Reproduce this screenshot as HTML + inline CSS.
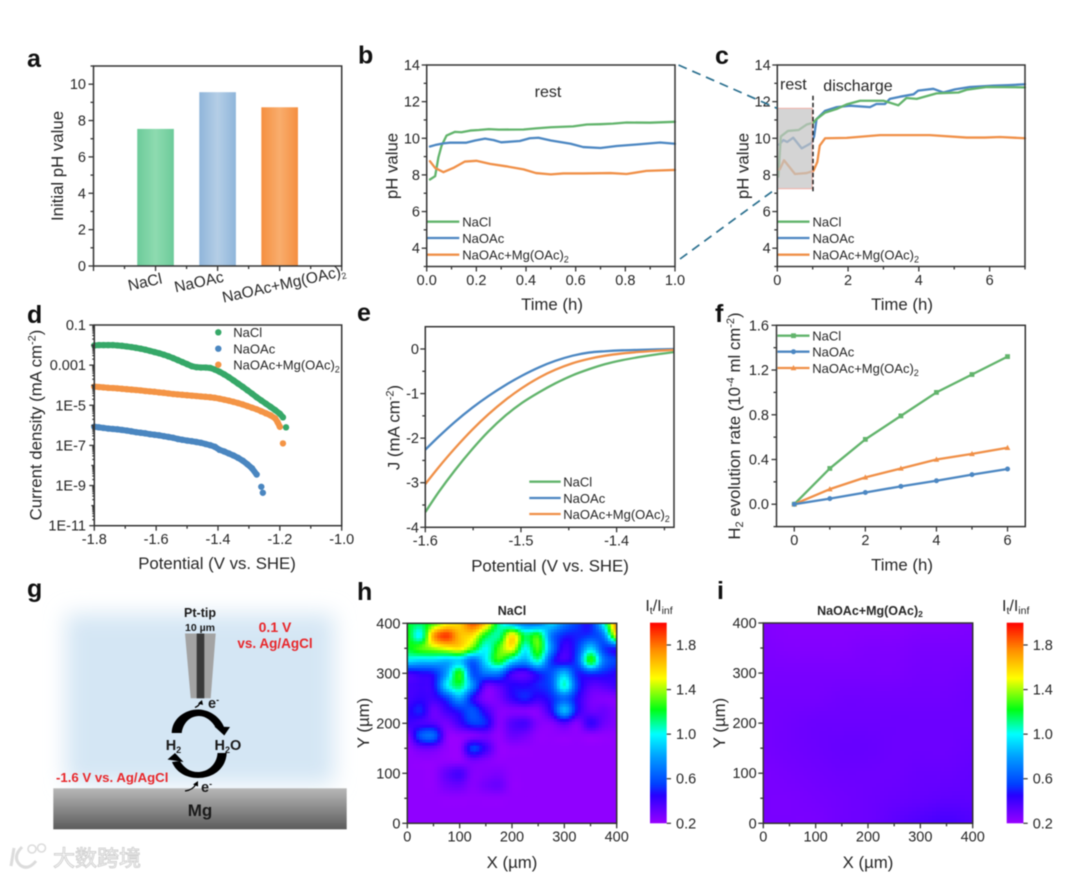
<!DOCTYPE html>
<html lang="en">
<head>
<meta charset="utf-8">
<title>pH and hydrogen evolution figure</title>
<style>
html,body{margin:0;padding:0;background:#fff;}
#figure{display:block;filter:blur(0.45px);font-family:"Liberation Sans",Arial,sans-serif;fill:#262626;}
.tick{font-size:14.5px;}
.title{font-size:16.8px;}
.legend{font-size:13px;}
.letter{font-size:25px;font-weight:bold;fill:#111;}
.sub{font-size:9px;}
.red{fill:#e8262a;font-weight:bold;}
.sch{font-weight:bold;fill:#1a1a1a;}
</style>
</head>
<body>
<svg id="figure" xmlns="http://www.w3.org/2000/svg" width="1080" height="878" viewBox="0 0 1080 878">
<defs>
<linearGradient id="barGreen"><stop offset="0" stop-color="#6ccb9a"/><stop offset=".5" stop-color="#8edbb0"/><stop offset="1" stop-color="#6ccb9a"/></linearGradient>
<linearGradient id="barBlue"><stop offset="0" stop-color="#8fb5da"/><stop offset=".5" stop-color="#b5cee6"/><stop offset="1" stop-color="#8fb5da"/></linearGradient>
<linearGradient id="barOrange"><stop offset="0" stop-color="#f58f40"/><stop offset=".5" stop-color="#f9ad6d"/><stop offset="1" stop-color="#f58f40"/></linearGradient>
<linearGradient id="mgGrad" x1="0" y1="0" x2="0" y2="1"><stop offset="0" stop-color="#b8b8b8"/><stop offset="1" stop-color="#5c5c5c"/></linearGradient>
<filter id="soft" x="-25%" y="-25%" width="150%" height="150%"><feGaussianBlur stdDeviation="11"/></filter>
<linearGradient id="cbGrad" x1="0" y1="1" x2="0" y2="0"></linearGradient>
</defs>
<rect width="1080" height="878" fill="#fff"/>

<g id="panel-a"></g>
<g id="panel-b"></g>
<g id="panel-c"></g>
<g id="panel-d"></g>
<g id="panel-e"></g>
<g id="panel-f"></g>
<g id="panel-h"></g>
<g id="panel-i"></g>

<!-- panel letters -->
<text class="letter" x="27" y="67">a</text>
<text class="letter" x="358" y="63.5">b</text>
<text class="letter" x="715" y="64">c</text>
<text class="letter" x="27" y="323">d</text>
<text class="letter" x="357" y="321">e</text>
<text class="letter" x="715" y="322">f</text>
<text class="letter" x="27" y="597">g</text>
<text class="letter" x="357" y="600">h</text>
<text class="letter" x="717" y="599">i</text>

<!-- panel a text -->
<text class="title" transform="translate(63,166) rotate(-90)" text-anchor="middle">Initial pH value</text>
<text class="tick" style="font-size:15.5px" transform="translate(146,287) rotate(-12.5)" text-anchor="middle">NaCl</text>
<text class="tick" style="font-size:15.5px" transform="translate(200,287) rotate(-12.5)" text-anchor="middle">NaOAc</text>
<text class="tick" style="font-size:15.5px" transform="translate(285,289) rotate(-12.5)" text-anchor="middle">NaOAc+Mg(OAc)<tspan class="sub" dy="3">2</tspan></text>

<!-- panel b text -->
<text class="title" transform="translate(397.5,166) rotate(-90)" text-anchor="middle">pH value</text>
<text class="title" x="552" y="310" text-anchor="middle">Time (h)</text>
<text x="548" y="97" text-anchor="middle" font-size="16">rest</text>
<text class="legend" x="462.3" y="226.5">NaCl</text>
<text class="legend" x="462.3" y="243">NaOAc</text>
<text class="legend" x="462.3" y="259.5">NaOAc+Mg(OAc)<tspan class="sub" dy="3">2</tspan></text>

<!-- panel c text -->
<text class="title" transform="translate(748.3,166) rotate(-90)" text-anchor="middle">pH value</text>
<text class="title" x="902" y="310" text-anchor="middle">Time (h)</text>
<text x="780" y="89.5" font-size="16">rest</text>
<text x="823.3" y="91" font-size="16">discharge</text>
<text class="legend" x="812.5" y="226.5">NaCl</text>
<text class="legend" x="812.5" y="243">NaOAc</text>
<text class="legend" x="812.5" y="259.5">NaOAc+Mg(OAc)<tspan class="sub" dy="3">2</tspan></text>

<!-- zoom connector lines -->
<line x1="678.5" y1="65" x2="777" y2="108.3" stroke="#2b708f" stroke-width="1.7" stroke-dasharray="9 6"/>
<line x1="680" y1="259" x2="777" y2="188" stroke="#2b708f" stroke-width="1.7" stroke-dasharray="9 6"/>

<!-- panel d text -->
<text class="title" transform="translate(41.7,425) rotate(-90)" text-anchor="middle">Current density (mA cm<tspan class="sub" dy="-6" style="font-size:11px">-2</tspan><tspan dy="6">)</tspan></text>
<text class="title" x="217" y="569" text-anchor="middle">Potential (V vs. SHE)</text>
<text class="legend" x="233.3" y="337">NaCl</text>
<text class="legend" x="233.3" y="353.3">NaOAc</text>
<text class="legend" x="233.3" y="369.3">NaOAc+Mg(OAc)<tspan class="sub" dy="3">2</tspan></text>

<!-- panel e text -->
<text class="title" transform="translate(399.3,427.5) rotate(-90)" text-anchor="middle">J (mA cm<tspan class="sub" dy="-6" style="font-size:11px">-2</tspan><tspan dy="6">)</tspan></text>
<text class="title" x="550" y="571.7" text-anchor="middle">Potential (V vs. SHE)</text>
<text class="legend" x="563.3" y="486.5">NaCl</text>
<text class="legend" x="563.3" y="503">NaOAc</text>
<text class="legend" x="563.3" y="519">NaOAc+Mg(OAc)<tspan class="sub" dy="3">2</tspan></text>

<!-- panel f text -->
<text class="title" transform="translate(740,426) rotate(-90)" text-anchor="middle">H<tspan class="sub" dy="3" style="font-size:11px">2</tspan><tspan dy="-3"> evolution rate (10</tspan><tspan class="sub" dy="-6" style="font-size:11px">-4</tspan><tspan dy="6"> ml cm</tspan><tspan class="sub" dy="-6" style="font-size:11px">-2</tspan><tspan dy="6">)</tspan></text>
<text class="title" x="902" y="570.7" text-anchor="middle">Time (h)</text>
<text class="legend" x="812.3" y="340.5">NaCl</text>
<text class="legend" x="812.3" y="356.5">NaOAc</text>
<text class="legend" x="812.3" y="373">NaOAc+Mg(OAc)<tspan class="sub" dy="3">2</tspan></text>

<!-- panel g schematic -->
<g>
  <rect x="66" y="614" width="268" height="170" fill="#d4e6f4" filter="url(#soft)"/>
  <rect x="53.3" y="788.3" width="293.4" height="41" fill="url(#mgGrad)"/>
  <text class="sch" x="200" y="816" text-anchor="middle" font-size="17">Mg</text>
  <text class="sch" x="200" y="617" text-anchor="middle" font-size="12.5">Pt-tip</text>
  <text class="sch" x="200" y="631" text-anchor="middle" font-size="10.5">10 µm</text>
  <polygon points="185,633.5 215.7,633.5 210.7,698.3 190.7,698.3" fill="#a3a3a3"/>
  <rect x="196.7" y="633.5" width="7.6" height="64.8" fill="#3a3a3a"/>
  <text class="red" x="275" y="632" text-anchor="middle" font-size="14">0.1 V</text>
  <text class="red" x="275" y="648" text-anchor="middle" font-size="13.5">vs. Ag/AgCl</text>
  <text class="red" x="56" y="782" font-size="13.2">-1.6 V vs. Ag/AgCl</text>
  <path d="M171.7,733 C172,718 186,709 199,709.5 C210,710 220,717 224,727 L216,728 C212,721 206,716 199,716 C190,716 183,723 181.7,733 Z" fill="#000"/>
  <polygon points="214.5,726.5 230,727 224.3,735.5" fill="#000"/>
  <path d="M226.7,753 C226,768 214,778 198,778 C186,778 176,772 172,762 L180,761 C184,768 190,772 198,772 C208,772 217,764 217.5,753 Z" fill="#000"/>
  <polygon points="167.5,759.5 175,753 183.5,762" fill="#000"/>
  <path d="M195,707.5 Q199,706 200.5,702" fill="none" stroke="#000" stroke-width="1.3"/>
  <polygon points="202,700 203,705 198,703.5" fill="#000"/>
  <path d="M185,791 Q193,790 196,784" fill="none" stroke="#000" stroke-width="1.3"/>
  <polygon points="198,781 198,786.5 193,784.5" fill="#000"/>
  <text class="sch" x="208" y="708" font-size="14.5">e<tspan font-size="9" dy="-5">-</tspan></text>
  <text class="sch" x="201" y="792" font-size="14.5">e<tspan font-size="9" dy="-5">-</tspan></text>
  <text class="sch" x="165.7" y="750" font-size="14.5">H<tspan font-size="9" dy="3">2</tspan></text>
  <text class="sch" x="214.5" y="750" font-size="14.5">H<tspan font-size="9" dy="3">2</tspan><tspan dy="-3">O</tspan></text>
</g>

<!-- panel h text -->
<text x="512" y="615" text-anchor="middle" font-size="12.5" font-weight="bold">NaCl</text>
<text class="title" transform="translate(369,723) rotate(-90)" text-anchor="middle">Y (µm)</text>
<text class="title" x="512" y="868" text-anchor="middle">X (µm)</text>
<text style="font-size:16px" x="659" y="611" text-anchor="middle">I<tspan style="font-size:10.5px" dy="3">t</tspan><tspan dy="-3">/I</tspan><tspan style="font-size:10.5px" dy="3">inf</tspan></text>

<!-- panel i text -->
<text x="870" y="615" text-anchor="middle" font-size="12.5" font-weight="bold">NaOAc+Mg(OAc)<tspan font-size="8.5" dy="2">2</tspan></text>
<text class="title" transform="translate(725,723) rotate(-90)" text-anchor="middle">Y (µm)</text>
<text class="title" x="868" y="868" text-anchor="middle">X (µm)</text>
<text style="font-size:16px" x="1015.7" y="611" text-anchor="middle">I<tspan style="font-size:10.5px" dy="3">t</tspan><tspan dy="-3">/I</tspan><tspan style="font-size:10.5px" dy="3">inf</tspan></text>

<!-- watermark -->
<g>
  <path d="M14,848 L11,866 M22,847 Q12,857 20,865 Q28,871 36,861" fill="none" stroke="#dcdcdc" stroke-width="3"/>
  <circle cx="32" cy="849" r="4" fill="none" stroke="#dcdcdc" stroke-width="1.6"/>
  <circle cx="41.5" cy="848" r="4" fill="none" stroke="#dcdcdc" stroke-width="1.6"/>
  <text x="53" y="866" font-size="22" style="font-family:'Liberation Sans','Noto Sans CJK SC',sans-serif;fill:#fbfbfb;stroke:#d0d0d0;stroke-width:.9">大数跨境</text>
</g>
</svg>

<script>
/* ---------- chart data ---------- */
var barCategories = ['NaCl', 'NaOAc', 'NaOAc+Mg(OAc)2'];
var barValues = [7.54, 9.56, 8.73];
var barPositions = [1, 2, 3];

var bTimeNaCl = [.013,.034,.047,.06,.08,.114,.14,.175,.21,.25,.29,.39,.44,.5,.59,.645,.7,.75,.805,.9,1];
var bPhNaCl = [7.75,7.93,8.95,9.6,10.15,10.35,10.33,10.42,10.45,10.5,10.47,10.48,10.54,10.6,10.65,10.75,10.77,10.8,10.86,10.85,10.9];
var bTimeNaOAc = [.013,.034,.067,.094,.16,.195,.235,.27,.3,.375,.415,.45,.5,.58,.63,.7,.765,.845,.94,1];
var bPhNaOAc = [9.55,9.63,9.72,9.76,9.76,9.88,9.98,9.9,9.78,9.85,10,10.03,9.88,9.7,9.52,9.47,9.58,9.66,9.77,9.7];
var bTimeMg = [.013,.034,.067,.107,.154,.2,.255,.32,.39,.44,.5,.55,.63,.74,.805,.885,1];
var bPhMg = [8.75,8.38,8.15,8.38,8.73,8.77,8.6,8.47,8.3,8.1,8.03,8.08,8.08,8.1,8.05,8.22,8.27];

var cTimeNaCl = [.03,.1,.3,.6,.83,1.02,1.11,1.35,1.68,1.96,2.34,3,3.42,3.65,3.94,4.22,4.5,5.12,5.35,5.92,7];
var cPhNaCl = [7.9,10.1,10.4,10.45,10.75,10.85,11.05,11.4,11.6,11.85,12.05,12.05,11.8,12.2,12.15,12.3,12.45,12.5,12.65,12.8,12.78];
var cTimeNaOAc = [.05,.17,.28,.45,.69,.97,1.04,1.11,1.35,1.68,2.05,2.62,2.8,3.04,3.18,3.47,3.85,3.98,4.41,4.69,5.02,5.44,6.1,6.53,7];
var cPhNaOAc = [9.65,9.9,9.8,10.03,9.45,9.75,10.1,11.05,11.5,11.7,11.78,11.7,11.87,11.87,12.15,12.27,12.4,12.6,12.7,12.5,12.67,12.8,12.87,12.9,12.95];
var cTimeMg = [.03,.07,.19,.5,.83,1.02,1.13,1.2,1.35,1.96,2.9,4.31,5.35,5.87,6.29,7];
var cPhMg = [8.3,8.3,8.8,8.05,8.1,8.22,8.7,9.6,10,10.02,10.17,10.17,10.04,10.04,10.07,10];

var dPotentialNaCl = [-1.8,-1.785,-1.77,-1.755,-1.74,-1.725,-1.71,-1.695,-1.68,-1.665,-1.65,-1.635,-1.62,-1.605,-1.59,-1.575,-1.56,-1.545,-1.53,-1.515,-1.5,-1.485,-1.47,-1.455,-1.44,-1.425,-1.41,-1.395,-1.38,-1.365,-1.35,-1.335,-1.32,-1.305,-1.29,-1.275,-1.26,-1.245,-1.23,-1.215,-1.2,-1.19];
var dLogNaCl = [-2.02,-2,-2,-2,-2,-2.02,-2.04,-2.07,-2.1,-2.14,-2.18,-2.23,-2.29,-2.35,-2.41,-2.48,-2.56,-2.65,-2.75,-2.85,-2.95,-3.05,-3.1,-3.12,-3.12,-3.14,-3.22,-3.33,-3.46,-3.6,-3.76,-3.92,-4.08,-4.25,-4.42,-4.6,-4.76,-4.92,-5.08,-5.24,-5.42,-5.6];
var dPotentialMg = [-1.8,-1.785,-1.77,-1.755,-1.74,-1.725,-1.71,-1.695,-1.68,-1.665,-1.65,-1.635,-1.62,-1.605,-1.59,-1.575,-1.56,-1.545,-1.53,-1.515,-1.5,-1.485,-1.47,-1.455,-1.44,-1.425,-1.41,-1.395,-1.38,-1.365,-1.35,-1.335,-1.32,-1.305,-1.29,-1.275,-1.26,-1.245,-1.23,-1.215,-1.207,-1.2];
var dLogMg = [-4.07,-4.09,-4.11,-4.13,-4.14,-4.16,-4.18,-4.2,-4.22,-4.24,-4.26,-4.29,-4.31,-4.33,-4.36,-4.38,-4.41,-4.44,-4.46,-4.48,-4.5,-4.52,-4.54,-4.56,-4.58,-4.6,-4.63,-4.67,-4.72,-4.77,-4.83,-4.89,-4.96,-5.04,-5.12,-5.2,-5.3,-5.4,-5.5,-5.65,-5.85,-6.07];
var dPotentialNaOAc = [-1.8,-1.785,-1.77,-1.755,-1.74,-1.725,-1.71,-1.695,-1.68,-1.665,-1.65,-1.635,-1.62,-1.605,-1.59,-1.575,-1.56,-1.545,-1.53,-1.515,-1.5,-1.485,-1.47,-1.455,-1.44,-1.425,-1.41,-1.395,-1.38,-1.365,-1.35,-1.335,-1.32,-1.305,-1.29,-1.275];
var dLogNaOAc = [-6.07,-6.1,-6.13,-6.16,-6.18,-6.2,-6.23,-6.26,-6.3,-6.34,-6.37,-6.4,-6.44,-6.47,-6.5,-6.54,-6.58,-6.62,-6.68,-6.72,-6.76,-6.79,-6.83,-6.87,-6.93,-6.99,-7.07,-7.22,-7.3,-7.4,-7.5,-7.62,-7.76,-7.94,-8.14,-8.45];
var dOutlierPotentialNaCl = [-1.18];
var dOutlierLogNaCl = [-6.1];
var dOutlierPotentialMg = [-1.19];
var dOutlierLogMg = [-6.9];
var dOutlierPotentialNaOAc = [-1.26, -1.255];
var dOutlierLogNaOAc = [-9.06, -9.36];

var ePotential = [-1.6,-1.586,-1.569,-1.551,-1.534,-1.516,-1.499,-1.481,-1.464,-1.446,-1.429,-1.412,-1.394,-1.376,-1.358,-1.34];
var eCurrentNaCl = [-3.66,-3.21,-2.72,-2.25,-1.85,-1.49,-1.21,-.97,-.77,-.59,-.455,-.34,-.25,-.18,-.12,-.07];
var eCurrentMg = [-3.03,-2.652,-2.227,-1.813,-1.464,-1.14,-.876,-.642,-.465,-.32,-.222,-.15,-.1,-.065,-.04,-.02];
var eCurrentNaOAc = [-2.26,-1.966,-1.634,-1.319,-1.055,-.807,-.6,-.411,-.266,-.15,-.08,-.05,-.03,-.02,-.01,0];

var fTime = [0,1,2,3,4,5,6];
var fRateNaCl = [0,.32,.58,.79,1.0,1.16,1.32];
var fRateNaOAc = [0,.05,.105,.16,.21,.265,.315];
var fRateMg = [0,.135,.24,.32,.4,.45,.505];

/* tick labels */
var aYTicks = ['0','2','4','6','8','10'];
var bYTicks = ['4','6','8','10','12','14'];
var bXTicks = ['0.0','0.2','0.4','0.6','0.8','1.0'];
var cXTicks = ['0','2','4','6'];
var dYTickExponents = [-1,-3,-5,-7,-9,-11];
var dYTicks = ['0.1','0.001','1E-5','1E-7','1E-9','1E-11'];
var dXTicks = ['-1.8','-1.6','-1.4','-1.2','-1.0'];
var eXTicks = ['-1.6','-1.5','-1.4'];
var eYTicks = ['0','-1','-2','-3','-4'];
var fYTicks = ['0.0','0.4','0.8','1.2','1.6'];
var fXTicks = ['0','2','4','6'];
var mapTicks = ['0','100','200','300','400'];
var colorbarTicks = ['0.2','0.6','1.0','1.4','1.8'];

/* SECM maps: rows run y=400 to y=0, columns x=0 to x=400 */
var heatNaCl = [
[1.2,1.15,1.3,1.5,1.6,1.85,1.6,1.1,.85,.7,.7,.9,.7,.55,.5,1.0,1.75],
[1.25,1.0,1.7,1.9,1.65,1.55,1.2,1.1,1.55,1.15,1.25,.7,.5,.5,.55,.7,1.5],
[1.2,1.3,1.4,1.5,1.55,1.3,1.0,1.3,1.5,1.0,1.3,.75,.4,.55,.9,.55,.5],
[.95,.9,.9,.85,.9,.65,.95,1.25,.95,.8,1.05,.55,.4,.6,1.25,.7,.55],
[.4,.45,.5,.8,1.25,.6,.7,.7,.4,.35,.5,.6,.85,.5,.55,.5,.45],
[.38,.4,.45,.95,1.15,.75,.32,.35,.45,.45,.5,.6,1.05,.55,.35,.35,.4],
[.38,.42,.4,.55,.8,.45,.25,.28,.42,.5,.42,.5,.65,.45,.28,.25,.25],
[.42,.5,.3,.4,.5,.6,.4,.25,.25,.25,.25,.45,.85,.45,.3,.3,.25],
[.4,.38,.35,.28,.4,.55,.5,.25,.35,.38,.25,.25,.35,.25,.42,.3,.25],
[.25,.6,.65,.25,.22,.25,.28,.22,.3,.28,.22,.22,.22,.22,.22,.22,.22],
[.22,.3,.3,.22,.22,.55,.4,.22,.22,.22,.22,.22,.22,.22,.22,.22,.22],
[.22,.22,.22,.22,.22,.28,.25,.22,.22,.22,.22,.22,.22,.22,.22,.22,.22],
[.22,.22,.22,.32,.38,.25,.25,.26,.22,.22,.22,.22,.22,.22,.22,.22,.22],
[.22,.22,.22,.28,.3,.24,.28,.3,.22,.22,.22,.22,.22,.22,.22,.22,.22],
[.22,.22,.22,.22,.22,.22,.22,.22,.22,.22,.22,.22,.22,.22,.22,.22,.22],
[.22,.22,.22,.22,.22,.22,.22,.22,.22,.22,.22,.22,.22,.22,.22,.22,.22],
[.22,.22,.22,.22,.22,.22,.22,.22,.22,.22,.22,.22,.22,.22,.22,.22,.22]
];
var heatMg = [
[.25,.24,.24,.24,.24,.24,.25,.25,.26],
[.26,.25,.25,.25,.26,.26,.27,.27,.27],
[.27,.27,.27,.27,.27,.27,.28,.28,.29],
[.28,.28,.28,.29,.29,.29,.29,.29,.3],
[.28,.29,.3,.3,.3,.3,.3,.3,.3],
[.28,.29,.3,.31,.31,.3,.3,.3,.31],
[.27,.28,.29,.3,.3,.3,.31,.31,.32],
[.27,.27,.28,.29,.3,.31,.32,.33,.33],
[.27,.27,.27,.29,.3,.33,.36,.38,.36]
];

/* ---------- helpers ---------- */
var NS = 'http://www.w3.org/2000/svg';
var INK = '#333';
var GREEN = '#62b46c', BLUE = '#4c87c2', ORANGE = '#f09048';

function make(parent, tag, name, attrs) {
  var el = document.createElementNS(NS, tag);
  
  
  for (var k in attrs) { el.setAttribute(k, attrs[k]); }
  parent.appendChild(el);
  return el;
}
function linear(d0, d1, r0, r1) {
  var f = function (v) { return r0 + (v - d0) * (r1 - r0) / (d1 - d0); };
  return f;
}
function steps(a, b, s) {
  var out = [];
  var n = Math.round((b - a) / s);
  for (var i = 0; i <= n; i++) { out.push(a + i * s); }
  return out;
}
function hTick(g, x, y, len, name) {
  make(g, 'line', name, {x1: x - len, x2: x, y1: y, y2: y, stroke: INK, 'stroke-width': 1.3});
}
function vTick(g, x, y, len, name) {
  make(g, 'line', name, {x1: x, x2: x, y1: y, y2: y + len, stroke: INK, 'stroke-width': 1.3});
}
function label(g, name, txt, x, y, anchor) {
  var t = make(g, 'text', name, {x: x, y: y, 'text-anchor': anchor, 'class': 'tick'});
  t.textContent = txt;
  return t;
}
/* box: left,right,top,bottom */
function axes(g, box, sx, sy, cfg) {
  cfg.xMinor.forEach(function (v) { vTick(g, sx(v), box.bottom, 3, 'x-minor-tick'); });
  cfg.yMinor.forEach(function (v) { hTick(g, box.left, sy(v), 3, 'y-minor-tick'); });
  cfg.xMajor.forEach(function (v, i) {
    vTick(g, sx(v), box.bottom, 5, 'x-major-tick');
    if (cfg.xLabels) { label(g, 'x-tick-label', cfg.xLabels[i], sx(v), cfg.xLabelY, 'middle'); }
  });
  cfg.yMajor.forEach(function (v, i) {
    hTick(g, box.left, sy(v), 5, 'y-major-tick');
    if (cfg.yLabels) { label(g, 'y-tick-label', cfg.yLabels[i], cfg.yLabelX, sy(v) + 5, 'end'); }
  });
}
function frame(g, box) {
  make(g, 'rect', 'plot-frame', {x: box.left, y: box.top, width: box.right - box.left, height: box.bottom - box.top, fill: 'none', stroke: INK, 'stroke-width': 1.5});
}
function series(g, name, xs, ys, sx, sy, color, width) {
  var pts = xs.map(function (v, i) { return sx(v).toFixed(2) + ',' + sy(ys[i]).toFixed(2); }).join(' ');
  make(g, 'polyline', name, {points: pts, fill: 'none', stroke: color, 'stroke-width': width || 2.3, 'stroke-linejoin': 'round', 'stroke-linecap': 'round'});
}
function smoothSeries(g, name, xs, ys, sx, sy, color) {
  var p = xs.map(function (v, i) { return [sx(v), sy(ys[i])]; });
  var d = 'M' + p[0][0].toFixed(2) + ',' + p[0][1].toFixed(2);
  for (var i = 0; i < p.length - 1; i++) {
    var a = p[Math.max(0, i - 1)], b = p[i], c = p[i + 1], e = p[Math.min(p.length - 1, i + 2)];
    d += ' C' + (b[0] + (c[0] - a[0]) / 6).toFixed(2) + ',' + (b[1] + (c[1] - a[1]) / 6).toFixed(2) + ' ' + (c[0] - (e[0] - b[0]) / 6).toFixed(2) + ',' + (c[1] - (e[1] - b[1]) / 6).toFixed(2) + ' ' + c[0].toFixed(2) + ',' + c[1].toFixed(2);
  }
  make(g, 'path', name, {d: d, fill: 'none', stroke: color, 'stroke-width': 2.3});
}
function legendLine(g, name, x1, x2, y, color) {
  make(g, 'line', name, {x1: x1, x2: x2, y1: y, y2: y, stroke: color, 'stroke-width': 2.3});
}

/* ---------- panel a ---------- */
(function () {
  var g = document.getElementById('panel-a');
  var box = {left: 93.5, right: 341.7, top: 66, bottom: 266};
  var sx = linear(0, 4, box.left, box.right), sy = linear(0, 11, box.bottom, box.top);
  var fills = ['url(#barGreen)', 'url(#barBlue)', 'url(#barOrange)'];
  barValues.forEach(function (v, i) {
    var w = sx(0.59) - sx(0);
    make(g, 'rect', 'bar-' + barCategories[i].toLowerCase().replace(/[^a-z]+/g, '-'), {x: sx(barPositions[i]) - w / 2, y: sy(v), width: w, height: sy(0) - sy(v), fill: fills[i]});
  });
  axes(g, box, sx, sy, {xMajor: steps(0, 4, 1), xMinor: steps(.5, 3.5, 1), yMajor: steps(0, 10, 2), yMinor: steps(1, 11, 2), yLabels: aYTicks, yLabelX: 86});
  frame(g, box);
})();

/* ---------- panel b ---------- */
(function () {
  var g = document.getElementById('panel-b');
  var box = {left: 426.7, right: 675, top: 65, bottom: 266.5};
  var sx = linear(0, 1, box.left, box.right), sy = linear(3, 14, box.bottom, box.top);
  series(g, 'series-nacl', bTimeNaCl, bPhNaCl, sx, sy, GREEN);
  series(g, 'series-naoac', bTimeNaOAc, bPhNaOAc, sx, sy, BLUE);
  series(g, 'series-naoac-mg', bTimeMg, bPhMg, sx, sy, ORANGE);
  legendLine(g, 'legend-line-nacl', 427.3, 459.3, 221.7, GREEN);
  legendLine(g, 'legend-line-naoac', 427.3, 459.3, 238, BLUE);
  legendLine(g, 'legend-line-naoac-mg', 427.3, 459.3, 254.7, ORANGE);
  axes(g, box, sx, sy, {xMajor: steps(0, 1, .2), xMinor: steps(.1, .9, .2), xLabels: bXTicks, xLabelY: 285, yMajor: steps(4, 14, 2), yMinor: steps(3, 13, 2), yLabels: bYTicks, yLabelX: 420});
  frame(g, box);
})();

/* ---------- panel c ---------- */
(function () {
  var g = document.getElementById('panel-c');
  var box = {left: 777.3, right: 1025, top: 65, bottom: 266.5};
  var sx = linear(0, 7, box.left, box.right), sy = linear(3, 14, box.bottom, box.top);
  series(g, 'series-naoac', cTimeNaOAc, cPhNaOAc, sx, sy, BLUE);
  series(g, 'series-nacl', cTimeNaCl, cPhNaCl, sx, sy, GREEN);
  series(g, 'series-naoac-mg', cTimeMg, cPhMg, sx, sy, ORANGE);
  make(g, 'rect', 'rest-period-highlight', {x: sx(0), y: 108.3, width: sx(1) - sx(0) - .5, height: 80.4, fill: '#c4c4c4', 'fill-opacity': .72, stroke: '#f0b0a8', 'stroke-width': 1});
  make(g, 'line', 'rest-discharge-divider', {x1: sx(1) + .3, x2: sx(1) + .3, y1: 95.7, y2: 192.3, stroke: '#222', 'stroke-width': 1.5, 'stroke-dasharray': '4.5 2.5'});
  legendLine(g, 'legend-line-nacl', 777.5, 809.5, 221.7, GREEN);
  legendLine(g, 'legend-line-naoac', 777.5, 809.5, 238, BLUE);
  legendLine(g, 'legend-line-naoac-mg', 777.5, 809.5, 254.7, ORANGE);
  axes(g, box, sx, sy, {xMajor: steps(0, 6, 2), xMinor: steps(1, 7, 2), xLabels: cXTicks, xLabelY: 285, yMajor: steps(4, 14, 2), yMinor: steps(3, 13, 2), yLabels: bYTicks, yLabelX: 770.7});
  frame(g, box);
})();

/* ---------- panel d ---------- */
(function () {
  var g = document.getElementById('panel-d');
  var box = {left: 94.3, right: 341.7, top: 325, bottom: 525.7};
  var sx = linear(-1.8, -1, box.left, box.right), sy = linear(-11, -1, box.bottom, box.top);
  var groups = [
    ['nacl', dPotentialNaCl, dLogNaCl, dOutlierPotentialNaCl, dOutlierLogNaCl, '#36a868'],
    ['naoac', dPotentialNaOAc, dLogNaOAc, dOutlierPotentialNaOAc, dOutlierLogNaOAc, '#4a86c0'],
    ['naoac-mg', dPotentialMg, dLogMg, dOutlierPotentialMg, dOutlierLogMg, '#f49445']
  ];
  groups.forEach(function (s) {
    series(g, 'scatter-band-' + s[0], s[1], s[2], sx, sy, s[5], 6);
    s[1].forEach(function (v, i) {
      make(g, 'circle', 'point-' + s[0], {cx: sx(v), cy: sy(s[2][i]), r: 3.2, fill: s[5]});
    });
    s[3].forEach(function (v, i) {
      make(g, 'circle', 'point-' + s[0], {cx: sx(v), cy: sy(s[4][i]), r: 3.2, fill: s[5]});
    });
  });
  make(g, 'circle', 'legend-dot-nacl', {cx: 218.3, cy: 332.3, r: 3.2, fill: '#36a868'});
  make(g, 'circle', 'legend-dot-naoac', {cx: 218.3, cy: 348.7, r: 3.2, fill: '#4a86c0'});
  make(g, 'circle', 'legend-dot-naoac-mg', {cx: 218.3, cy: 364.7, r: 3.2, fill: '#f49445'});
  var sub = [];
  steps(-11, -2, 1).forEach(function (e) {
    [2, 3, 4, 5, 6, 7, 8, 9].forEach(function (m) { sub.push(e + Math.log10(m)); });
  });
  sub.forEach(function (v) { hTick(g, box.left, sy(v), 2, 'y-log-subtick'); });
  axes(g, box, sx, sy, {xMajor: steps(-1.8, -1, .2), xMinor: steps(-1.7, -1.1, .2), xLabels: dXTicks, xLabelY: 544, yMajor: dYTickExponents, yMinor: steps(-10, -2, 2), yLabels: dYTicks, yLabelX: 86});
  frame(g, box);
})();

/* ---------- panel e ---------- */
(function () {
  var g = document.getElementById('panel-e');
  var box = {left: 425.3, right: 674, top: 326.7, bottom: 527.3};
  var sx = linear(-1.6, -1.34, box.left, box.right), sy = linear(-4, .5, box.bottom, box.top);
  smoothSeries(g, 'series-nacl', ePotential, eCurrentNaCl, sx, sy, GREEN);
  smoothSeries(g, 'series-naoac', ePotential, eCurrentNaOAc, sx, sy, BLUE);
  smoothSeries(g, 'series-naoac-mg', ePotential, eCurrentMg, sx, sy, ORANGE);
  legendLine(g, 'legend-line-nacl', 529.3, 560.7, 481.7, GREEN);
  legendLine(g, 'legend-line-naoac', 529.3, 560.7, 498, BLUE);
  legendLine(g, 'legend-line-naoac-mg', 529.3, 560.7, 514, ORANGE);
  axes(g, box, sx, sy, {xMajor: steps(-1.6, -1.4, .1), xMinor: [-1.55, -1.45, -1.35], xLabels: eXTicks, xLabelY: 545.7, yMajor: [0, -1, -2, -3, -4], yMinor: [-.5, -1.5, -2.5, -3.5], yLabels: eYTicks, yLabelX: 419});
  frame(g, box);
})();

/* ---------- panel f ---------- */
(function () {
  var g = document.getElementById('panel-f');
  var box = {left: 776.5, right: 1025.3, top: 325.3, bottom: 526.6};
  var sx = linear(-.5, 6.5, box.left, box.right), sy = linear(-.2, 1.6, box.bottom, box.top);
  function square(x, y, name) {
    make(g, 'rect', name, {x: x - 2.4, y: y - 2.4, width: 4.8, height: 4.8, fill: GREEN});
  }
  function dot(x, y, name) {
    make(g, 'circle', name, {cx: x, cy: y, r: 2.5, fill: BLUE});
  }
  function tri(x, y, name) {
    make(g, 'polygon', name, {points: (x - 2.8) + ',' + (y + 2.2) + ' ' + (x + 2.8) + ',' + (y + 2.2) + ' ' + x + ',' + (y - 3), fill: ORANGE});
  }
  series(g, 'series-nacl', fTime, fRateNaCl, sx, sy, GREEN);
  series(g, 'series-naoac-mg', fTime, fRateMg, sx, sy, ORANGE);
  series(g, 'series-naoac', fTime, fRateNaOAc, sx, sy, BLUE);
  fTime.forEach(function (t, i) {
    square(sx(t), sy(fRateNaCl[i]), 'marker-nacl');
    tri(sx(t), sy(fRateMg[i]), 'marker-naoac-mg');
    dot(sx(t), sy(fRateNaOAc[i]), 'marker-naoac');
  });
  legendLine(g, 'legend-line-nacl', 777.5, 809.5, 335.7, GREEN);
  square(793.5, 335.7, 'legend-marker-nacl');
  legendLine(g, 'legend-line-naoac', 777.5, 809.5, 351.7, BLUE);
  dot(793.5, 351.7, 'legend-marker-naoac');
  legendLine(g, 'legend-line-naoac-mg', 777.5, 809.5, 368, ORANGE);
  tri(793.5, 368, 'legend-marker-naoac-mg');
  axes(g, box, sx, sy, {xMajor: steps(0, 6, 2), xMinor: steps(1, 5, 2), xLabels: fXTicks, xLabelY: 545, yMajor: steps(0, 1.6, .4), yMinor: steps(-.2, 1.4, .4), yLabels: fYTicks, yLabelX: 769});
  frame(g, box);
})();

/* ---------- heat maps ---------- */
var ramp = [[.2,153,0,255],[.45,40,0,255],[.55,0,64,255],[.8,0,160,255],[1.0,0,255,255],[1.22,0,255,20],[1.5,255,255,0],[1.75,255,144,0],[2.0,255,0,0]];
function colorOf(v) {
  v = Math.max(.2, Math.min(2, v));
  for (var i = 1; i < ramp.length; i++) {
    if (v <= ramp[i][0]) {
      var a = ramp[i - 1], b = ramp[i], t = (v - a[0]) / (b[0] - a[0]);
      return 'rgb(' + Math.round(a[1] + (b[1] - a[1]) * t) + ',' + Math.round(a[2] + (b[2] - a[2]) * t) + ',' + Math.round(a[3] + (b[3] - a[3]) * t) + ')';
    }
  }
  return 'rgb(255,0,0)';
}
function cubic(p0, p1, p2, p3, t) {
  return p1 + .5 * t * (p2 - p0 + t * (2 * p0 - 5 * p1 + 4 * p2 - p3 + t * (3 * (p1 - p2) + p3 - p0)));
}
function sample(grid, u, v) {
  var rows = grid.length, cols = grid[0].length;
  var fy = v * (rows - 1), fx = u * (cols - 1);
  var iy = Math.min(rows - 2, Math.floor(fy)), ix = Math.min(cols - 2, Math.floor(fx));
  var ty = fy - iy, tx = fx - ix, col = [];
  for (var r = -1; r <= 2; r++) {
    var row = grid[Math.max(0, Math.min(rows - 1, iy + r))];
    col.push(cubic(row[Math.max(0, ix - 1)], row[ix], row[ix + 1], row[Math.min(cols - 1, ix + 2)], tx));
  }
  return cubic(col[0], col[1], col[2], col[3], ty);
}
function heatPanel(id, grid, box, cbLeft, cbLabelX, yLabelX, cell) {
  var g = document.getElementById(id);
  var sx = linear(0, 400, box.left, box.right), sy = linear(0, 400, box.bottom, box.top);
  var w = box.right - box.left, h = box.bottom - box.top;
  var nx = Math.round(w / cell), ny = Math.round(h / cell);
  var cells = make(g, 'g', 'heatmap-cells', {});
  for (var j = 0; j < ny; j++) {
    for (var i = 0; i < nx; i++) {
      var v = sample(grid, (i + .5) / nx, (j + .5) / ny);
      make(cells, 'rect', 'heatmap-cell', {x: (box.left + i * w / nx).toFixed(2), y: (box.top + j * h / ny).toFixed(2), width: (w / nx + .6).toFixed(2), height: (h / ny + .6).toFixed(2), fill: colorOf(v)});
    }
  }
  axes(g, box, sx, sy, {xMajor: steps(0, 400, 100), xMinor: steps(50, 350, 100), xLabels: mapTicks, xLabelY: 841.7, yMajor: steps(0, 400, 100), yMinor: steps(50, 350, 100), yLabels: mapTicks, yLabelX: yLabelX});
  frame(g, box);
  var cs = linear(.2, 2, 823.3, 622.7);
  make(g, 'rect', 'colorbar', {x: cbLeft, y: 622.7, width: 16.7, height: 200.6, fill: 'url(#cbGrad)'});
  [.2, .6, 1.0, 1.4, 1.8].forEach(function (v, i) {
    make(g, 'line', 'colorbar-tick', {x1: cbLeft + 16.7, x2: cbLeft + 21, y1: cs(v), y2: cs(v), stroke: INK, 'stroke-width': 1.2});
    label(g, 'colorbar-tick-label', colorbarTicks[i], cbLabelX, cs(v) + 5, 'start');
  });
}
(function () {
  var grad = document.getElementById('cbGrad');
  ramp.forEach(function (r) {
    var s = document.createElementNS(NS, 'stop');
    s.setAttribute('offset', (r[0] - .2) / 1.8);
    s.setAttribute('stop-color', 'rgb(' + r[1] + ',' + r[2] + ',' + r[3] + ')');
    grad.appendChild(s);
  });
})();
heatPanel('panel-h', heatNaCl, {left: 407.3, right: 616.7, top: 623.3, bottom: 823.3}, 650, 676, 400.5, 3);
heatPanel('panel-i', heatMg, {left: 763.3, right: 972.7, top: 623, bottom: 823.3}, 1006.7, 1032.7, 756.7, 4);
</script>
</body>
</html>
